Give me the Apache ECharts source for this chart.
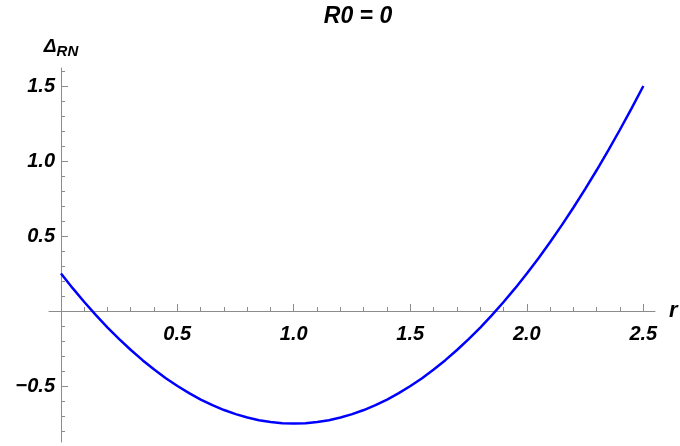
<!DOCTYPE html>
<html>
<head>
<meta charset="utf-8">
<script src="https://cdn.jsdelivr.net/npm/echarts@6/dist/echarts.min.js"></script>
<style>html,body{margin:0;padding:0;background:#fff}#c{width:680px;height:446px}</style>
</head>
<body>
<div id="c"></div>
<script>
// r values
var rValues = [0,0.05,0.1,0.15,0.2,0.25,0.3,0.35,0.4,0.45,0.5,0.55,0.6,0.65,0.7,0.75,0.8,0.85,0.9,0.95,1.0,
  1.05,1.1,1.15,1.2,1.25,1.3,1.35,1.4,1.45,1.5,1.55,1.6,1.65,1.7,1.75,1.8,1.85,1.9,1.95,2.0,
  2.05,2.1,2.15,2.2,2.25,2.3,2.35,2.4,2.45,2.5];
// Delta_RN values
var deltaValues = [0.25,0.1525,0.06,-0.0275,-0.11,-0.1875,-0.26,-0.3275,-0.39,-0.4475,-0.5,-0.5475,-0.59,-0.6275,-0.66,-0.6875,-0.71,-0.7275,-0.74,-0.7475,-0.75,
  -0.7475,-0.74,-0.7275,-0.71,-0.6875,-0.66,-0.6275,-0.59,-0.5475,-0.5,-0.4475,-0.39,-0.3275,-0.26,-0.1875,-0.11,-0.0275,0.06,0.1525,0.25,
  0.3525,0.46,0.5725,0.69,0.8125,0.94,1.0725,1.21,1.3525,1.5];
var xMajorTicks = [0.5,1.0,1.5,2.0,2.5];
var xMinorTicks = [0.1,0.2,0.3,0.4,0.6,0.7,0.8,0.9,1.1,1.2,1.3,1.4,1.6,1.7,1.8,1.9,2.1,2.2,2.3,2.4];
var yMajorTicks = [-0.5,0.5,1.0,1.5];
var yMinorTicks = [-0.8,-0.7,-0.6,-0.4,-0.3,-0.2,-0.1,0.1,0.2,0.3,0.4,0.6,0.7,0.8,0.9,1.1,1.2,1.3,1.4,1.6];
var titleText = 'R0 = 0';

var X_MIN = -0.05, X_MAX = 2.55, Y_MIN = -0.873, Y_MAX = 1.62;

var chart = echarts.init(document.getElementById('c'), null, {renderer:'canvas'});
var axisColor = '#8c8c8c';
var labelFont = {fontFamily:'Liberation Sans', fontWeight:'bold', fontStyle:'italic', fontSize:20, color:'#000'};
var data = rValues.map(function(r,i){return [r, deltaValues[i]];});
function fmt(v){ return (v<0?'\u2212':'') + Math.abs(v).toFixed(1); }

chart.setOption({
  animation:false,
  title:{text:titleText, left:353, top:0, textAlign:'center',
    textStyle:{fontFamily:'Liberation Sans', fontWeight:'bold', fontStyle:'italic', fontSize:23, color:'#000'}},
  grid:[
    // grid 0: its bottom edge is the r axis (Delta = 0)
    {left:49, right:25, top:68, bottom:135, containLabel:false, outerBoundsMode:'none'},
    // grid 1: its left edge is the Delta axis (r = 0)
    {left:61, right:25, top:68, bottom:4, containLabel:false, outerBoundsMode:'none'}
  ],
  xAxis:[
    {gridIndex:0, type:'value', min:X_MIN, max:X_MAX, position:'bottom',
     axisLine:{show:true, onZero:false, lineStyle:{color:axisColor, width:1}},
     axisTick:{show:true, inside:true, length:4, customValues:xMinorTicks, lineStyle:{color:axisColor}},
     axisLabel:{show:false}, splitLine:{show:false},
     name:'r', nameLocation:'end', nameGap:14,
     nameTextStyle:{fontFamily:'Liberation Sans', fontWeight:'bold', fontStyle:'italic', fontSize:22, color:'#000', verticalAlign:'middle'}},
    {gridIndex:0, type:'value', min:X_MIN, max:X_MAX, position:'bottom',
     axisLine:{show:false, onZero:false},
     axisTick:{show:true, inside:true, length:7, customValues:xMajorTicks, lineStyle:{color:axisColor}},
     axisLabel:Object.assign({show:true, margin:13, customValues:xMajorTicks, formatter:fmt}, labelFont),
     splitLine:{show:false}},
    {gridIndex:1, type:'value', min:0, max:X_MAX, show:false}
  ],
  yAxis:[
    {gridIndex:0, type:'value', min:0, max:Y_MAX, show:false},
    {gridIndex:1, type:'value', min:Y_MIN, max:Y_MAX, position:'left',
     axisLine:{show:true, onZero:false, lineStyle:{color:axisColor, width:1}},
     axisTick:{show:true, inside:true, length:4, customValues:yMinorTicks, lineStyle:{color:axisColor}},
     axisLabel:{show:false}, splitLine:{show:false},
     name:'{d|\u0394}{s|RN}', nameLocation:'end', nameGap:12,
     nameTextStyle:{align:'center', verticalAlign:'bottom',
       rich:{d:{fontFamily:'Liberation Sans', fontWeight:'bold', fontStyle:'italic', fontSize:19, color:'#000', verticalAlign:'bottom'},
             s:{fontFamily:'Liberation Sans', fontWeight:'bold', fontStyle:'italic', fontSize:15, color:'#000', verticalAlign:'bottom', padding:[0,0,-3,0]}}}},
    {gridIndex:1, type:'value', min:Y_MIN, max:Y_MAX, position:'left',
     axisLine:{show:false, onZero:false},
     axisTick:{show:true, inside:true, length:7, customValues:yMajorTicks, lineStyle:{color:axisColor}},
     axisLabel:Object.assign({show:true, margin:6, customValues:yMajorTicks, formatter:fmt}, labelFont),
     splitLine:{show:false}}
  ],
  series:[{type:'line', xAxisIndex:2, yAxisIndex:1, data:data, showSymbol:false, symbol:'none', smooth:false,
    lineStyle:{color:'#0000ff', width:2.5}}]
});
</script>
</body>
</html>
